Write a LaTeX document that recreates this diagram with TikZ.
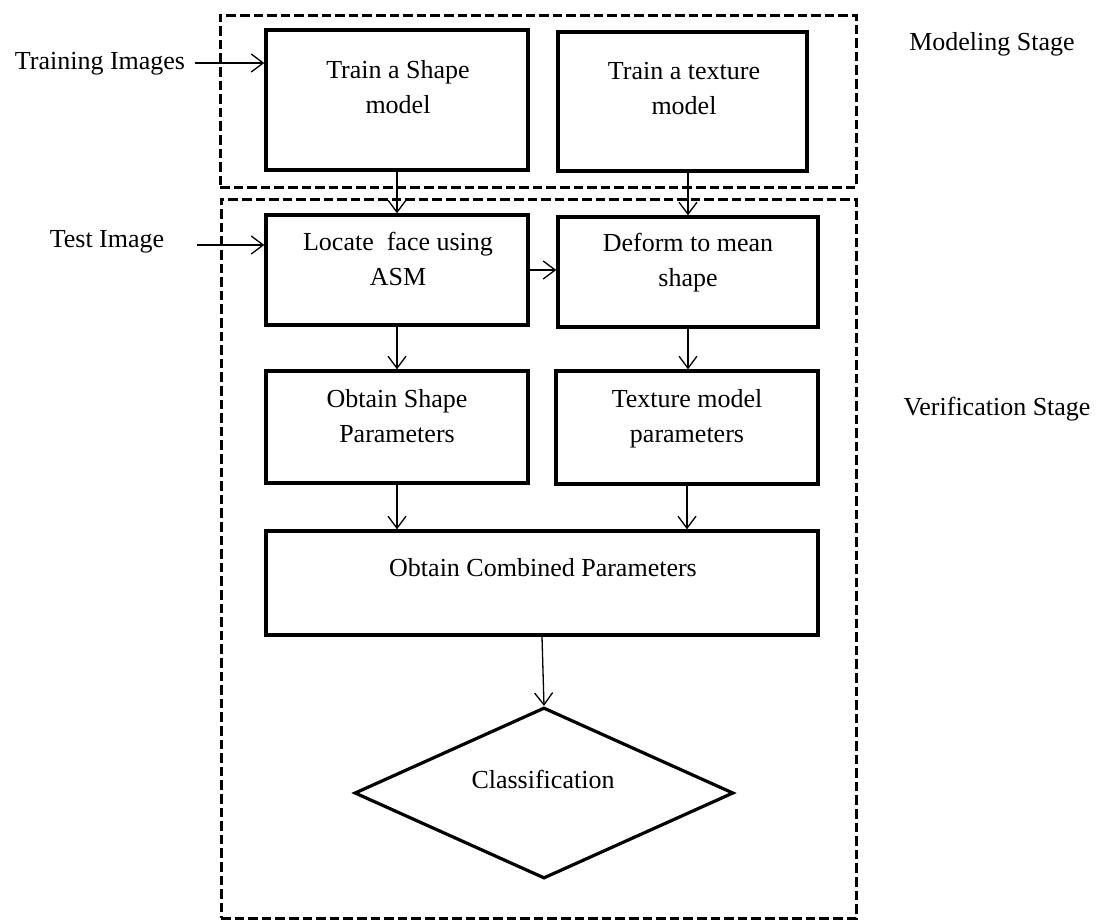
\documentclass[tikz,border=0pt]{standalone}
\usepackage{fontspec}
\setmainfont{Liberation Serif}
\usetikzlibrary{arrows.meta,shapes.geometric,fit}
\begin{document}
\begin{tikzpicture}[x=0.5pt,y=-0.5pt,
  font=\fontsize{13pt}{17.5pt}\selectfont,
  box/.style={draw, line width=1.7pt, inner sep=0pt, rectangle},
  stagebox/.style={draw, line width=1.5pt, dash pattern=on 4.8pt off 2pt, inner sep=0pt, rectangle},
  lbl/.style={align=center, inner sep=0pt},
  arr/.style={line width=0.65pt, -{Straight Barb[length=6pt,width=9pt,line width=0.65pt]}}
]
\useasboundingbox (0,0) rectangle (1102,922);

% stage frames
\node[stagebox, fit={(220,15) (856,187)}] (modeling) {};
\node[stagebox, fit={(221,199) (856,918)}] (verification) {};

% boxes
\node[box, fit={(266,30) (528,170)}] (shape) {};
\node[box, fit={(558,32) (807,171)}] (texture) {};
\node[box, fit={(266,215) (528,325)}] (locate) {};
\node[box, fit={(558,217) (818,327)}] (deform) {};
\node[box, fit={(266,371) (528,483)}] (obshape) {};
\node[box, fit={(556,371) (818,484)}] (texpar) {};
\node[box, fit={(266,531) (818,635)}] (combined) {};
\node[draw, line width=1.6pt, diamond, aspect=2.2, inner sep=0pt,
      minimum width=189.5pt, minimum height=85.5pt] (cls) at (544,793) {};

% texts in boxes
\node[lbl] (tshape) at (398,87) {Train a Shape\\model};
\node[lbl] (ttexture) at (684,89) {Train a texture\\model};
\node[lbl] (tlocate) at (398,259) {Locate~ face using\\ASM};
\node[lbl] (tdeform) at (688,263) {Deform to mean\\shape};
\node[lbl] (tobshape) at (397,416) {Obtain Shape\\Parameters};
\node[lbl] (ttexpar) at (687,419) {Texture model\\parameters};
\node[lbl] (tcombined) at (543,568) {Obtain Combined Parameters};
\node[lbl] (tcls) at (543,779) {Classification};

% outside labels
\node[lbl] (training) at (100,64) {Training Images};
\node[lbl] (test) at (107,242) {Test Image};
\node[lbl] (modlabel) at (992,44) {Modeling Stage};
\node[lbl] (verlabel) at (997,409) {Verification Stage};

\coordinate (trstart) at (195,63);
\coordinate (tsstart) at (197,245);

% connectors
\draw[arr] (trstart) -- (trstart -| shape.west);
\draw[arr] (tsstart) -- (tsstart -| locate.west);
\draw[arr] (shape.south) -- (shape.south |- locate.north);
\draw[arr] (texture.south -| deform.north) -- (deform.north);
\draw[arr] (locate.east) -- (locate.east -| deform.west);
\draw[arr] (locate.south) -- (obshape.north);
\draw[arr] (deform.south) -- (deform.south |- texpar.north);
\draw[arr] (obshape.south) -- (obshape.south |- combined.north);
\draw[arr] (texpar.south) -- (texpar.south |- combined.north);
\draw[arr] (combined.south) -- (cls.north);
\end{tikzpicture}
\end{document}
